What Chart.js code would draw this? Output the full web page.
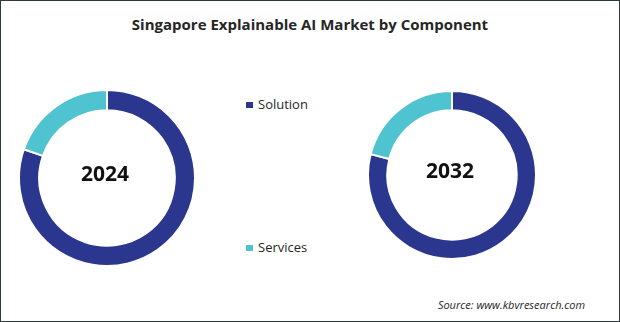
<!DOCTYPE html>
<html>
<head>
<meta charset="utf-8">
<script src="https://cdn.jsdelivr.net/npm/chart.js@4/dist/chart.umd.min.js"></script>
<style>
  html, body { margin: 0; padding: 0; background: #fff; }
  #frame {
    position: relative; width: 618px; height: 320px;
    border: 1px solid #2d3a3a; overflow: hidden; background: #fff;
  }
  #title {
    position: absolute; left: 0; top: 13px; width: 618px; text-align: center;
    font: 700 15px "Open Sans", sans-serif; color: #262626;
  }
  .donut { position: absolute; }
  .leg {
    position: absolute; left: 245px; font: 13px "Open Sans", sans-serif; color: #262626;
  }
  .leg span {
    display: inline-block; width: 7px; height: 6px; margin-right: 5px; vertical-align: 1px;
  }
  #source {
    position: absolute; right: 34px; top: 296px;
    font: italic 11px "Open Sans", sans-serif; color: #262626;
  }
</style>
</head>
<body>
<div id="frame">
  <div id="title">Singapore Explainable AI Market by Component</div>
  <canvas id="c2024" class="donut" width="178" height="178" style="left:17px;top:88px;width:178px;height:178px"></canvas>
  <canvas id="c2032" class="donut" width="170" height="170" style="left:366px;top:89px;width:170px;height:170px"></canvas>
  <div class="leg" style="top:94px"><span id="sw0"></span><b id="lg0" style="font-weight:400"></b></div>
  <div class="leg" style="top:237px"><span id="sw1"></span><b id="lg1" style="font-weight:400"></b></div>
  <div id="source">Source: www.kbvresearch.com</div>
</div>
<script>
const categories = ['Solution', 'Services']
const colors = ['#2b378f', '#4fc3cf']
const years = ['2024', '2032']
const share2024 = [80.3, 19.7]
const share2032 = [79, 21]

// legend in the middle
categories.forEach((c, i) => {
  document.getElementById('lg' + i).textContent = c
  document.getElementById('sw' + i).style.background = colors[i]
})

const centerText = {
  id: 'centerText',
  afterDraw(chart, args, opts) {
    const { ctx } = chart
    const m = chart.getDatasetMeta(0).data[0]
    ctx.save()
    ctx.font = '700 21px "Open Sans", sans-serif'
    ctx.fillStyle = '#111'
    ctx.textAlign = 'center'
    ctx.textBaseline = 'middle'
    ctx.fillText(opts.text, m.x - 2, m.y - 3)
    ctx.restore()
  },
}

function donut(id, values, year) {
  new Chart(document.getElementById(id), {
    type: 'doughnut',
    data: {
      labels: categories,
      datasets: [
        {
          data: values,
          backgroundColor: colors,
          borderColor: '#ffffff',
          borderWidth: 2,
        },
      ],
    },
    options: {
      responsive: false,
      animation: false,
      cutout: '77%',
      plugins: {
        legend: { display: false },
        tooltip: { enabled: false },
        centerText: { text: year },
      },
    },
    plugins: [centerText],
  })
}

donut('c2024', share2024, years[0])
donut('c2032', share2032, years[1])
</script>
</body>
</html>
